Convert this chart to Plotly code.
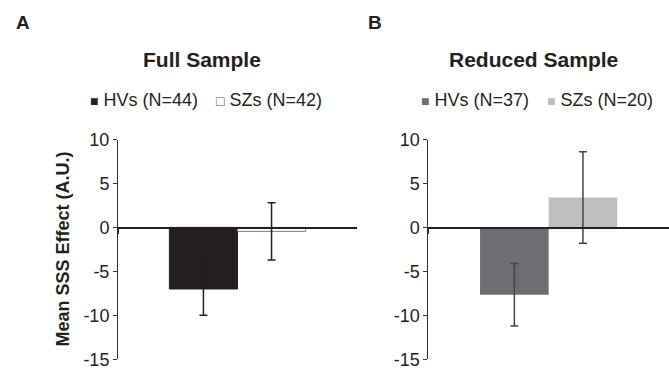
import plotly.graph_objects as go

# ---- data ----
full_labels = ["HVs (N=44)", "SZs (N=42)"]
full_means = [-7.0, -0.45]
full_err = [3.0, 3.25]
red_labels = ["HVs (N=37)", "SZs (N=20)"]
red_means = [-7.65, 3.4]
red_err = [3.55, 5.2]
y_ticks = [-15, -10, -5, 0, 5, 10]
y_ticktext = ["-15", "-10", "-5", "0", "5", "10"]
y_title = "Mean SSS Effect (A.U.)"
cat = [""]

FONT = "Liberation Sans, Arial, sans-serif"
W, H = 669, 371

full_fill = ["#231f20", "#ffffff"]
full_line = ["#231f20", "#7f7f7f"]
red_fill = ["#6d6e71", "#bcbec0"]

ydom = [1 - 359.3 / H, 1 - 139.5 / H]
zero_pos = ydom[0] + (0 - (-15)) / 25 * (ydom[1] - ydom[0])

fig = go.Figure()
for i in range(2):
    fig.add_trace(go.Bar(
        x=cat, y=[full_means[i]], name=full_labels[i], showlegend=False,
        marker=dict(color=full_fill[i], line=dict(color=full_line[i], width=1)),
        error_y=dict(type="data", array=[full_err[i]], color="#231f20", thickness=1.5, width=4),
        xaxis="x", yaxis="y"))
for i in range(2):
    fig.add_trace(go.Bar(
        x=cat, y=[red_means[i]], name=red_labels[i], showlegend=False,
        marker=dict(color=red_fill[i], line=dict(color=red_fill[i], width=0)),
        error_y=dict(type="data", array=[red_err[i]], color="#444444", thickness=1.5, width=4),
        xaxis="x2", yaxis="y2"))

xcommon = dict(type="category", showline=True, linecolor="#231f20", linewidth=1.3,
               ticks="outside", tickson="boundaries", ticklen=5, tickcolor="#231f20",
               showticklabels=False, showgrid=False, zeroline=False, anchor="free",
               position=zero_pos, fixedrange=True, automargin=False)
ycommon = dict(range=[-15, 10], tickvals=y_ticks, ticktext=y_ticktext, showline=True,
               linecolor="#333333", linewidth=1, ticks="outside", ticklen=4, tickcolor="#333333",
               showgrid=False, zeroline=False, domain=ydom, fixedrange=True, automargin=False,
               tickfont=dict(family=FONT, size=18, color="#231f20"))

fig.update_layout(
    width=W, height=H, margin=dict(l=0, r=0, t=0, b=0, pad=0, autoexpand=False),
    paper_bgcolor="white", plot_bgcolor="white",
    barmode="group", bargap=0.43, bargroupgap=0,
    showlegend=False,
    xaxis=dict(domain=[118 / W, 357 / W], **xcommon),
    xaxis2=dict(domain=[428.3 / W, 1.0], **xcommon),
    yaxis=dict(anchor="x", **ycommon),
    yaxis2=dict(anchor="x2", **ycommon),
)

ann = [
    dict(text="<b>A</b>", x=14 / W, y=1 - 23 / H, xanchor="left", yanchor="middle", size=19, angle=0),
    dict(text="<b>B</b>", x=366 / W, y=1 - 23 / H, xanchor="left", yanchor="middle", size=19, angle=0),
    dict(text="<b>Full Sample</b>", x=202 / W, y=1 - 59 / H, xanchor="center", yanchor="middle", size=21, angle=0),
    dict(text="<b>Reduced Sample</b>", x=533.5 / W, y=1 - 59 / H, xanchor="center", yanchor="middle", size=21, angle=0),
    dict(text=f"<b>{y_title}</b>", x=62 / W, y=1 - 249.5 / H, xanchor="center", yanchor="middle", size=18, angle=-90),
]
for a in ann:
    fig.add_annotation(text=a["text"], x=a["x"], y=a["y"], xref="paper", yref="paper",
                       xanchor=a["xanchor"], yanchor=a["yanchor"], showarrow=False,
                       textangle=a["angle"],
                       font=dict(family=FONT, size=a["size"], color="#231f20"))

leg_items = [
    (full_labels[0], "■", full_fill[0], 88),
    (full_labels[1], "□", "#555555", 214),
    (red_labels[0], "■", red_fill[0], 419),
    (red_labels[1], "■", red_fill[1], 545),
]
for label, sym, col, px in leg_items:
    fig.add_annotation(
        text=f'<span style="color:{col};font-size:14px">{sym}</span> {label}',
        x=px / W, y=1 - 100 / H, xref="paper", yref="paper", xanchor="left", yanchor="middle",
        showarrow=False, font=dict(family=FONT, size=18, color="#231f20"))

fig.write_html(
    "out.html",
    config={"displayModeBar": False, "staticPlot": True},
    post_script="document.documentElement.style.margin='0';document.body.style.margin='0';document.body.style.padding='0';document.body.style.overflow='hidden';",
)
